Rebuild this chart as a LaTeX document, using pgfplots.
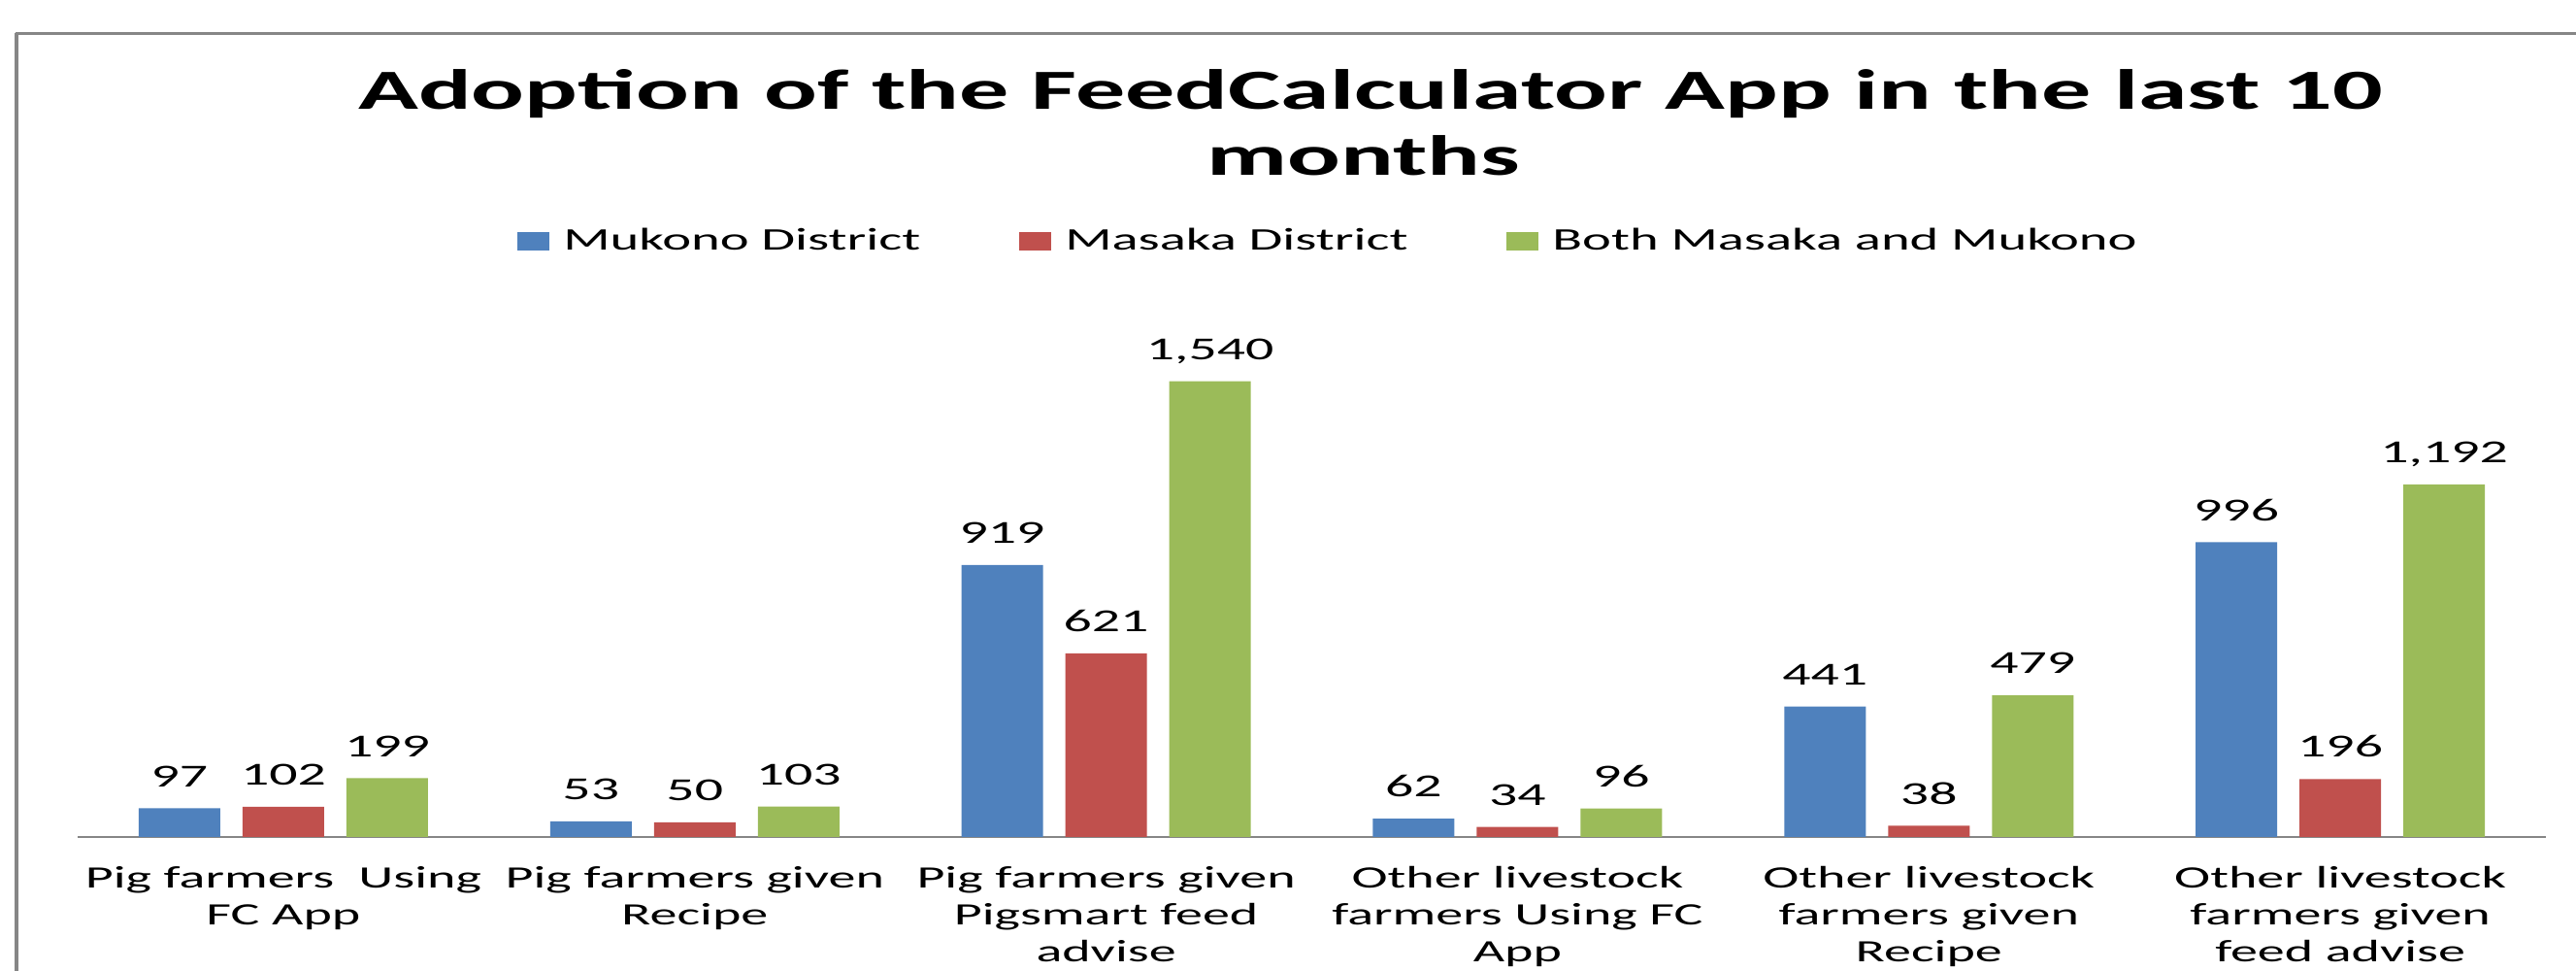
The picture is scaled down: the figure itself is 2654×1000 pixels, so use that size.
\documentclass[border=0pt]{standalone}
\usepackage{fontspec}
\setmainfont{Carlito}[FakeStretch=1.75]
\usepackage{pgfplots}
\pgfplotsset{compat=1.18}
\definecolor{cblue}{HTML}{4F81BD}
\definecolor{cred}{HTML}{C0504D}
\definecolor{cgreen}{HTML}{9BBB59}
\definecolor{framegray}{HTML}{868686}
\begin{document}
\begin{tikzpicture}
\begin{scope}[x=0.3pt,y=0.3pt]
\path[use as bounding box] (0,0) rectangle (2654,1000);
\draw[framegray, line width=1.2pt] (17,-20) -- (17,965.5);
\draw[framegray, line width=0.7pt] (16,965.5) -- (2700,965.5);
\node[font=\fontsize{17.5}{20}\selectfont\bfseries, anchor=base, inner sep=0pt] at (1412,887) {Adoption of the FeedCalculator App in the last 10};
\node[font=\fontsize{17.5}{20}\selectfont\bfseries, anchor=base, inner sep=0pt] at (1405,819) {months};
\end{scope}
\begin{axis}[
  at={(24pt,41.4pt)}, anchor=south west,
  scale only axis, width=762.9pt, height=164.55pt,
  xmin=-0.5, xmax=5.5, ymin=0, ymax=1800,
  axis x line*=bottom, axis y line=none,
  x axis line style={draw=framegray, line width=0.6pt},
  ytick=\empty,
  xtick={0,1,2,3,4,5},
  xticklabels={{Pig farmers\ \ Using\\FC App},{Pig farmers given\\Recipe},{Pig farmers given\\Pigsmart feed\\advise},{Other livestock\\farmers Using FC\\App},{Other livestock\\farmers given\\Recipe},{Other livestock\\farmers given\\feed advise}},
  major tick length=0pt, xtick style={draw=none},
  xticklabel style={font=\fontsize{9.6}{11.3}\selectfont, align=center, anchor=north, inner sep=0pt, yshift=-9.0pt, text=black},
  ybar=6.9pt, bar width=25.2pt,
  enlargelimits=false, clip=false,
  nodes near coords,
  every node near coord/.append style={font=\fontsize{9.9}{12}\selectfont, text depth=0pt, inner sep=0pt, yshift=6.5pt, text=black},
  /pgf/number format/1000 sep={,},
  /pgf/number format/assume math mode=true,
  legend columns=3,
  legend cell align=left,
  legend image code/.code={\fill[#1] (0pt,0pt) rectangle (9.9pt,5.5pt);},
  legend style={draw=none, fill=none, at={(0.178,1.1176)}, anchor=west, inner sep=0pt,
    font=\fontsize{9.7}{11}\selectfont,
    nodes={inner sep=0pt, anchor=base west},
    /tikz/every odd column/.append style={column sep=4.2pt},
    /tikz/every even column/.append style={column sep=30.6pt}},
]
\addplot[fill=cblue, draw=none] coordinates {(0,97) (1,53) (2,919) (3,62) (4,441) (5,996)};
\addplot[fill=cred, draw=none] coordinates {(0,102) (1,50) (2,621) (3,34) (4,38) (5,196)};
\addplot[fill=cgreen, draw=none] coordinates {(0,199) (1,103) (2,1540) (3,96) (4,479) (5,1192)};
\legend{Mukono District, Masaka District, Both Masaka and Mukono}
\end{axis}
\end{tikzpicture}
\end{document}
